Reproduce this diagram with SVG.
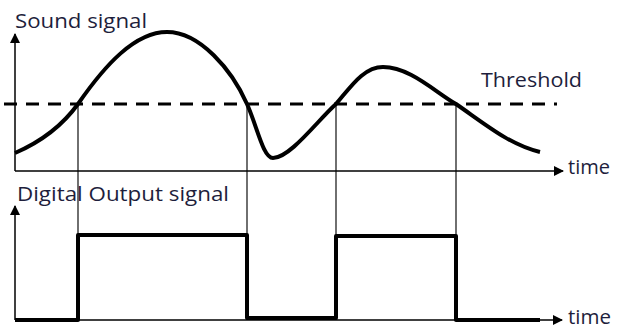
<svg xmlns="http://www.w3.org/2000/svg" width="617" height="332" viewBox="0 0 617 332">
<defs>
<marker id="arr" viewBox="0 0 10 10" refX="9" refY="5" markerWidth="10" markerHeight="10" markerUnits="userSpaceOnUse" orient="auto">
<path d="M0,0 L10,5 L0,10 z" fill="#000"/>
</marker>
<style>
.ax{stroke:#000;stroke-width:1.5;fill:none}
.thin{stroke:#222;stroke-width:1.3;fill:none}
.thick{stroke:#000;stroke-width:4;fill:none;stroke-linejoin:round}
.dash{stroke:#000;stroke-width:3;stroke-dasharray:13,9;fill:none}
.lbl{font-family:"Open Sans","Noto Sans","Liberation Sans",sans-serif;font-size:20px;fill:#1e1e3c}
</style>
</defs>
<rect width="617" height="332" fill="#fff"/>
<g id="connectors">
<line class="thin" x1="78" y1="104" x2="78" y2="320"/>
<line class="thin" x1="247" y1="104" x2="247" y2="320"/>
<line class="thin" x1="336" y1="104" x2="336" y2="320"/>
<line class="thin" x1="456" y1="104" x2="456" y2="320"/>
</g>
<g id="top-axes">
<line class="ax" x1="15" y1="171" x2="15" y2="34" marker-end="url(#arr)"/>
<line class="ax" x1="15" y1="171" x2="563" y2="171" marker-end="url(#arr)"/>
</g>
<g id="threshold">
<line class="dash" x1="4" y1="104" x2="557" y2="104"/>
</g>
<g id="sound-curve">
<path class="thick" d="M15,153 C45,140 65,122 78,104 C105,65 135,32 167,32 C200,32 232,70 247,104 C257,126 263,158 273,158 C290,158 318,120 336,104 C350,88 363,67 383,67 C410,67 435,92 456,104 C485,124 510,145 540,152"/>
</g>
<g id="bottom-axes">
<line class="ax" x1="15" y1="320" x2="15" y2="206" marker-end="url(#arr)"/>
<line class="ax" x1="15" y1="320" x2="562" y2="320" marker-end="url(#arr)"/>
</g>
<g id="digital-signal">
<path class="thick" d="M15,320 L78,320 L78,235 L247,235 L247,318 L336,318 L336,236 L456,236 L456,320 L540,320"/>
</g>
<g id="labels">
<text class="lbl" x="15" y="28" textLength="132" lengthAdjust="spacingAndGlyphs">Sound signal</text>
<text class="lbl" x="481" y="87" textLength="101" lengthAdjust="spacingAndGlyphs">Threshold</text>
<text class="lbl" x="568" y="174" textLength="42" lengthAdjust="spacingAndGlyphs">time</text>
<text class="lbl" x="17" y="201" textLength="212" lengthAdjust="spacingAndGlyphs">Digital Output signal</text>
<text class="lbl" x="568" y="324" textLength="43" lengthAdjust="spacingAndGlyphs">time</text>
</g>
</svg>
